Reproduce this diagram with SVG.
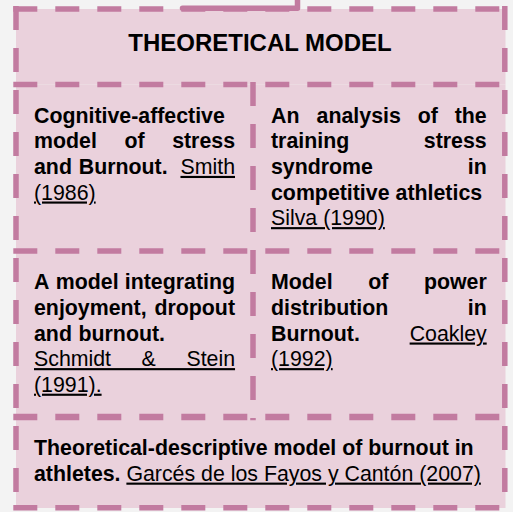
<svg xmlns="http://www.w3.org/2000/svg" width="513" height="512" viewBox="0 0 513 512">
<style>
.bg{fill:#f3f3f3}
.cell{fill:#ead1dc;stroke:none}
.b{font-family:"Liberation Sans",Arial,sans-serif;font-size:21.33px;font-weight:bold;fill:#000}
.r{font-family:"Liberation Sans",Arial,sans-serif;font-size:21.33px;font-weight:normal;fill:#000}
.u{text-decoration:underline}
.e{text-anchor:end}
.title{font-family:"Liberation Sans",Arial,sans-serif;font-size:24px;font-weight:bold;fill:#000;text-anchor:middle}
.dash{fill:none;stroke:#c27ba0;stroke-width:5.5;stroke-dasharray:24 18}
.conn{fill:none;stroke:#c27ba0;stroke-width:5.5;stroke-linecap:round;stroke-linejoin:round}
</style>
<rect class="bg" x="0" y="0" width="513" height="512"/>

<g id="header">
<rect class="cell" x="16" y="9" width="489.5" height="75.5"/>
<text class="title" x="260" y="50.7">THEORETICAL MODEL</text>
</g>

<g id="smith">
<rect class="cell" x="16" y="84.5" width="237" height="166.5"/>
<text class="b" x="34" y="122.7">Cognitive-affective</text>
<text class="b" y="148.3"><tspan x="34">model</tspan><tspan x="124.4">of</tspan></text>
<text class="b e" x="235" y="148.3">stress</text>
<text class="b" y="173.9"><tspan x="34">and</tspan><tspan x="78.8">Burnout.</tspan></text>
<text class="r u e" x="235" y="173.9">Smith</text>
<text class="r u" x="34" y="199.5">(1986)</text>
</g>

<g id="silva">
<rect class="cell" x="253" y="84.5" width="252.5" height="166.5"/>
<text class="b" y="122.7"><tspan x="271">An</tspan><tspan x="316.6">analysis</tspan><tspan x="417.8">of</tspan></text>
<text class="b e" x="486.7" y="122.7">the</text>
<text class="b" x="271" y="148.3">training</text>
<text class="b e" x="486.7" y="148.3">stress</text>
<text class="b" x="271" y="173.9">syndrome</text>
<text class="b e" x="486.7" y="173.9">in</text>
<text class="b" y="199.5"><tspan x="271">competitive</tspan><tspan x="395.6">athletics</tspan></text>
<text class="r u" x="271" y="225.1">Silva (1990)</text>
</g>

<g id="schmidt">
<rect class="cell" x="16" y="251" width="237" height="166"/>
<text class="b" y="289.3"><tspan x="34">A</tspan><tspan x="55.8">model</tspan></text>
<text class="b e" x="235" y="289.3">integrating</text>
<text class="b" x="34" y="314.9">enjoyment,</text>
<text class="b e" x="235" y="314.9">dropout</text>
<text class="b" y="340.5"><tspan x="34">and</tspan><tspan x="78.5">burnout.</tspan></text>
<text class="r u" x="34" y="366.1" word-spacing="24.65">Schmidt &amp; Stein</text>
<text class="r u" x="34" y="391.7">(1991).</text>
</g>

<g id="coakley">
<rect class="cell" x="253" y="251" width="252.5" height="166"/>
<text class="b" y="289.3"><tspan x="271">Model</tspan><tspan x="368.2">of</tspan></text>
<text class="b e" x="486.7" y="289.3">power</text>
<text class="b" x="271" y="314.9">distribution</text>
<text class="b e" x="486.7" y="314.9">in</text>
<text class="b" x="271" y="340.5">Burnout.</text>
<text class="r u e" x="486.7" y="340.5">Coakley</text>
<text class="r u" x="271" y="366.1">(1992)</text>
</g>

<g id="garces">
<rect class="cell" x="16" y="417" width="489.5" height="91"/>
<text class="b" x="34" y="455">Theoretical-descriptive model of burnout in</text>
<text class="b" x="34" y="480.6">athletes.</text>
<text class="r u" x="126.4" y="480.6">Garcés de los Fayos y Cantón (2007)</text>
</g>

<g id="borders">
<line class="dash" x1="253" y1="82" x2="253" y2="420.3"/>
<line class="dash" x1="13.3" y1="9" x2="507" y2="9"/>
<line class="dash" x1="13.3" y1="84.5" x2="507" y2="84.5"/>
<line class="dash" x1="13.3" y1="251" x2="507" y2="251"/>
<line class="dash" x1="13.3" y1="417" x2="507" y2="417" style="stroke-width:6.5"/>
<line class="dash" x1="13.3" y1="507.8" x2="507" y2="507.8"/>
<line class="dash" x1="16" y1="6" x2="16" y2="510"/>
<line class="dash" x1="504.8" y1="6" x2="504.8" y2="510"/>
</g>

<g id="connectors">
<path class="conn" d="M297.5,-3 V8.3 H182.5"/>
</g>
</svg>
